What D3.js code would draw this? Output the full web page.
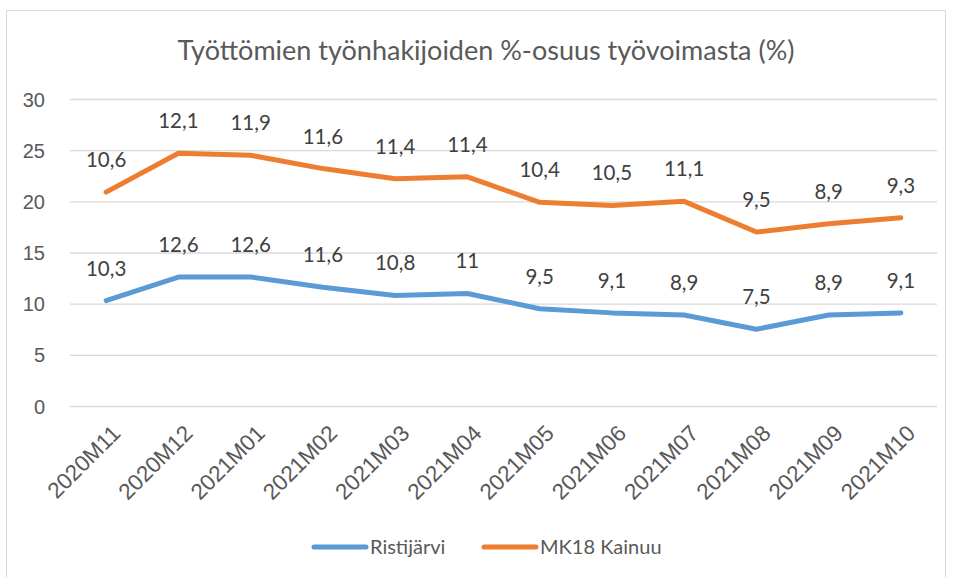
<!DOCTYPE html>
<html lang="fi">
<head>
    <meta charset="UTF-8">
    <title>Työttömien työnhakijoiden %-osuus</title>
    <style>
        body{margin:0;background:#fff;}
        svg{font-family:"Lato","Open Sans",sans-serif;}
        .grid line{stroke:#d9d9d9;stroke-width:1.3;}
        .grid path{display:none;}
        .axis text{fill:#595959;font-size:20px;}
        .axis path,.axis line{display:none;}
        .xaxis text{font-size:22.5px;}
        .lbl{fill:#404040;font-size:20.5px;text-anchor:middle;}
    </style>
    <script src="https://cdn.jsdelivr.net/npm/d3@7"></script>
</head>
<body>
<script>
    // data
    var months = ["2020M11","2020M12","2021M01","2021M02","2021M03","2021M04","2021M05","2021M06","2021M07","2021M08","2021M09","2021M10"];
    var ristijarvi = [10.3,12.6,12.6,11.6,10.8,11,9.5,9.1,8.9,7.5,8.9,9.1];
    var kainuu = [10.6,12.1,11.9,11.6,11.4,11.4,10.4,10.5,11.1,9.5,8.9,9.3];
    var seriesNames = ["Ristijärvi","MK18 Kainuu"];
    var colors = ["#5b9bd5","#ed7d31"];
    var yTicks = [0,5,10,15,20,25,30];

    var width = 953, height = 577;
    var plot = {left:70, right:937, top:99, bottom:406};

    var svg = d3.select("body").append("svg")
        .attr("width",width).attr("height",height);

    // chart frame
    svg.append("rect")
        .attr("x",6.5).attr("y",10.5)
        .attr("width",939).attr("height",570)
        .attr("fill","#fff").attr("stroke","#d9d9d9");

    svg.append("text")
        .attr("x",486).attr("y",60)
        .attr("text-anchor","middle")
        .attr("fill","#595959")
        .attr("font-size","27px")
        .text("Työttömien työnhakijoiden %-osuus työvoimasta (%)");

    var table = months.map(function(m,i){
        return {month:m, "Ristijärvi":ristijarvi[i], "MK18 Kainuu":kainuu[i]};
    });
    var stacked = d3.stack().keys(seriesNames)(table);

    var x = d3.scaleBand().domain(months).range([plot.left,plot.right]);
    var y = d3.scaleLinear().domain([0,30]).range([plot.bottom,plot.top]);

    // gridlines
    svg.append("g")
        .attr("class","grid")
        .attr("transform","translate("+plot.left+",0)")
        .call(d3.axisRight(y).tickValues(yTicks).tickSize(plot.right-plot.left).tickFormat(""));

    // y axis labels
    svg.append("g")
        .attr("class","axis")
        .attr("transform","translate("+(plot.left-22)+",0)")
        .call(d3.axisLeft(y).tickValues(yTicks).tickSize(0))
        .selectAll("text").attr("dy","0.35em");

    // x axis labels
    svg.append("g")
        .attr("class","axis xaxis")
        .attr("transform","translate(0,"+(plot.bottom+21)+")")
        .call(d3.axisBottom(x).tickSize(0))
        .selectAll("text")
        .attr("text-anchor","end")
        .attr("dy","0.35em")
        .attr("transform","translate(8,0) rotate(-45)");

    var line = d3.line()
        .x(function(d){return x(d.data.month)+x.bandwidth()/2;})
        .y(function(d){return y(d[1]);});

    stacked.forEach(function(s,k){
        svg.append("path")
            .attr("d",line(s))
            .attr("fill","none")
            .attr("stroke",colors[k])
            .attr("stroke-width",5)
            .attr("stroke-linejoin","round")
            .attr("stroke-linecap","round");

        svg.selectAll(".lbl"+k)
            .data(s)
            .enter()
            .append("text")
            .attr("class","lbl")
            .attr("x",function(d){return x(d.data.month)+x.bandwidth()/2;})
            .attr("y",function(d){return y(d[1])-25;})
            .text(function(d){return String(+(d[1]-d[0]).toFixed(1)).replace(".",",");});
    });

    // legend
    var legendX = [312,482];
    seriesNames.forEach(function(n,k){
        var g = svg.append("g").attr("transform","translate("+legendX[k]+",547)");
        g.append("line").attr("x1",2).attr("x2",54).attr("y1",0).attr("y2",0)
            .attr("stroke",colors[k]).attr("stroke-width",5).attr("stroke-linecap","round");
        g.append("text").attr("x",58).attr("y",0).attr("dy","0.35em")
            .attr("fill","#595959").attr("font-size","20px").text(n);
    });
</script>
</body>
</html>
